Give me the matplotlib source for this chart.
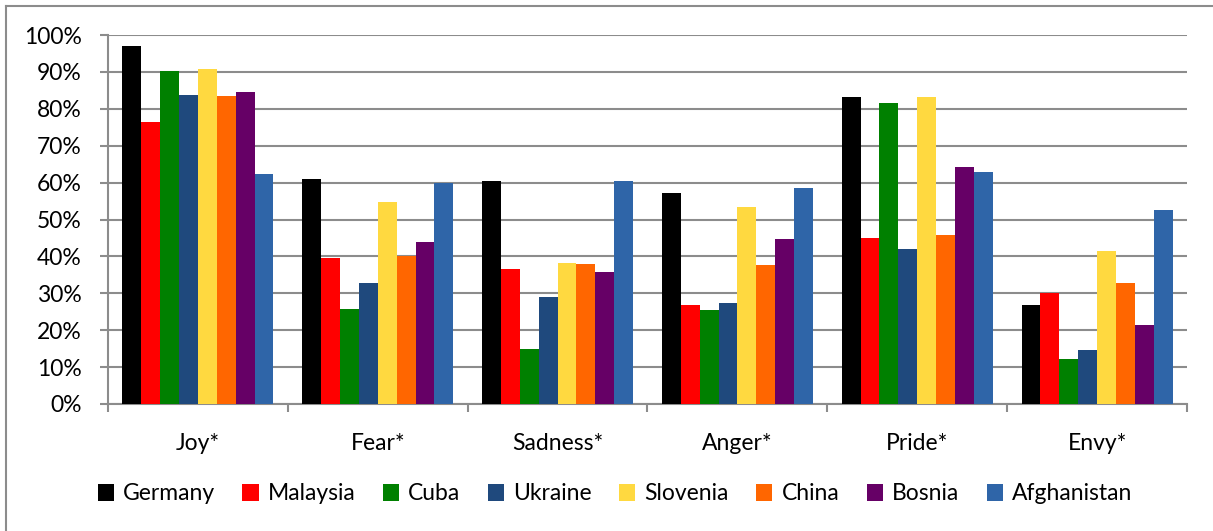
import numpy as np
import matplotlib
matplotlib.use("Agg")
import matplotlib.pyplot as plt
from matplotlib.lines import Line2D
from matplotlib.ticker import PercentFormatter

# Emotion categories and share per country (%)
categories = ["Joy*", "Fear*", "Sadness*", "Anger*", "Pride*", "Envy*"]
countries = ["Germany", "Malaysia", "Cuba", "Ukraine", "Slovenia", "China", "Bosnia", "Afghanistan"]

germany = [97.0, 61.0, 60.4, 57.1, 83.2, 26.7]
malaysia = [76.5, 39.5, 36.7, 26.9, 44.9, 30.1]
cuba = [90.2, 25.8, 14.8, 25.4, 81.6, 12.3]
ukraine = [83.7, 32.7, 28.9, 27.4, 41.9, 14.5]
slovenia = [90.8, 54.7, 38.3, 53.3, 83.1, 41.4]
china = [83.4, 40.2, 38.0, 37.6, 45.9, 32.7]
bosnia = [84.5, 44.0, 35.8, 44.8, 64.2, 21.4]
afghanistan = [62.3, 60.0, 60.4, 58.5, 62.8, 52.5]

series = [germany, malaysia, cuba, ukraine, slovenia, china, bosnia, afghanistan]
colors = ["#000000", "#FF0000", "#008000", "#1F497D", "#FFD940", "#FF6600", "#660066", "#2F65A8"]

plt.rcParams["font.family"] = ["Lato", "DejaVu Sans"]
GRID = "#8C8C8C"
FS = 16.5

fig = plt.figure(figsize=(12.13, 5.31), dpi=100)
W, H = 1213, 531
ax = fig.add_axes([108 / W, 1 - 404 / H, (1187 - 108) / W, (404 - 35) / H])

x = np.arange(len(categories))
bw = 0.105
for i, (vals, c) in enumerate(zip(series, colors)):
    offs = (i - (len(series) - 1) / 2) * bw
    ax.bar(x + offs, vals, width=bw, color=c, label=countries[i], zorder=3)

ax.set_xlim(-0.5, len(categories) - 0.5)
ax.set_ylim(0, 100)
ax.set_yticks(np.arange(0, 101, 10))
ax.yaxis.set_major_formatter(PercentFormatter(decimals=0))
ax.grid(axis="y", color=GRID, linewidth=1.5, zorder=0)

ax.set_xticks(x)
ax.set_xticklabels(categories)
ax.set_xticks(np.arange(-0.5, len(categories)), minor=True)
ax.tick_params(axis="x", which="major", length=0, pad=21, labelsize=FS)
ax.tick_params(axis="x", which="minor", length=6, width=1.5, color=GRID)
ax.tick_params(axis="y", length=6, width=1.5, color=GRID, pad=13, labelsize=FS)

for s in ["top", "right"]:
    ax.spines[s].set_visible(False)
for s in ["left", "bottom"]:
    ax.spines[s].set_color(GRID)
    ax.spines[s].set_linewidth(1.5)

fig.legend(loc="center", bbox_to_anchor=(615 / W, 1 - 494 / H), ncol=8,
           frameon=False, fontsize=FS, handlelength=0.7, handleheight=0.7,
           handletextpad=0.4, columnspacing=1.2)

# outer chart border (top and left edges visible in the reference)
fig.add_artist(Line2D([6 / W, 1.0], [1 - 6 / H, 1 - 6 / H], color=GRID, linewidth=1.5))
fig.add_artist(Line2D([6 / W, 6 / W], [0.0, 1 - 6 / H], color=GRID, linewidth=1.5))

fig.savefig("out.png", dpi=100)
